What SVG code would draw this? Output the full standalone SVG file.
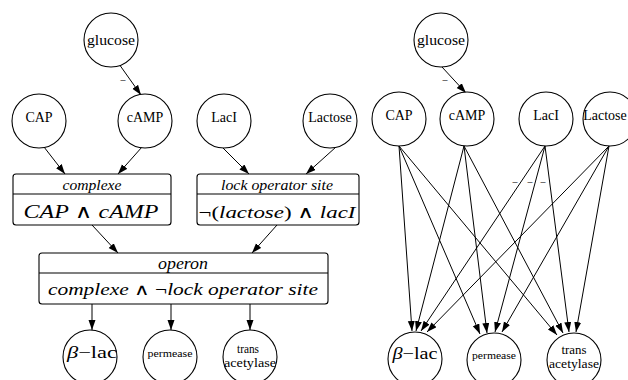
<svg xmlns="http://www.w3.org/2000/svg" width="628" height="380" viewBox="0 0 628 380">
<style>
  .n { fill: #fff; stroke: #000; stroke-width: 1.1; }
  .b { fill: #fff; stroke: #000; stroke-width: 1.1; }
  .t { font-family: "Liberation Serif", "Times New Roman", serif; fill: #000; text-anchor: middle; }
  .s14 { font-size: 14px; }
  .i { font-style: italic; }
  .op { font-family: "DejaVu Serif", serif; font-style: normal; }
  .e { fill: none; stroke: #000; stroke-width: 1; marker-end: url(#ah); }
  .lbl { font-family: "Liberation Serif", serif; font-size: 10px; fill: #000; text-anchor: middle; }
</style>
<defs>
  <marker id="ah" markerUnits="userSpaceOnUse" markerWidth="10" markerHeight="8" refX="10" refY="3.5" orient="auto">
    <path d="M0,0 L10,3.5 L0,7 z" fill="#000"/>
  </marker>
</defs>
<rect width="628" height="380" fill="#fff"/>

<g id="connectors">
  <!-- left graph -->
  <path class="e" d="M119,64 L141,95"/>
  <text class="lbl" x="123" y="83">–</text>
  <path class="e" d="M44,147 L65,174"/>
  <path class="e" d="M142,147 L118,174"/>
  <path class="e" d="M223,148 L249,174"/>
  <path class="e" d="M336,147 L306,174"/>
  <path class="e" d="M92,225 L118,253"/>
  <path class="e" d="M277,225 L252,253"/>
  <path class="e" d="M92,304 L92,330"/>
  <path class="e" d="M171,304 L171,330"/>
  <path class="e" d="M250,304 L250,330"/>
  <!-- right graph -->
  <path class="e" d="M442,67 L466,93"/>
  <text class="lbl" x="445" y="83">–</text>
  <path class="e" d="M399,146 L412,331"/>
  <path class="e" d="M399,146 L480,334"/>
  <path class="e" d="M399,146 L557,335"/>
  <path class="e" d="M464,146 L416,331"/>
  <path class="e" d="M464,146 L487,333"/>
  <path class="e" d="M464,146 L563,333"/>
  <path class="e" d="M545,146 L421,331"/>
  <path class="e" d="M545,146 L495,332"/>
  <path class="e" d="M545,146 L569,332"/>
  <path class="e" d="M609,146 L427,332"/>
  <path class="e" d="M609,146 L502,332"/>
  <path class="e" d="M609,146 L576,332"/>
  <text class="lbl" x="515" y="185">–</text>
  <text class="lbl" x="530" y="185">–</text>
  <text class="lbl" x="543" y="185">–</text>
</g>

<!-- left graph nodes -->
<g id="glucose_L"><circle class="n" cx="111" cy="40" r="27"/><text class="t" x="111" y="45" style="font-size:15px" textLength="48" lengthAdjust="spacingAndGlyphs">glucose</text></g>
<g id="CAP_L"><circle class="n" cx="39" cy="121" r="27"/><text class="t s14" x="39" y="122">CAP</text></g>
<g id="cAMP_L"><circle class="n" cx="145" cy="121" r="27"/><text class="t s14" x="145" y="122">cAMP</text></g>
<g id="LacI_L"><circle class="n" cx="224" cy="121" r="27"/><text class="t s14" x="224" y="122">LacI</text></g>
<g id="Lactose_L"><circle class="n" cx="330" cy="121" r="27"/><text class="t s14" x="330" y="122">Lactose</text></g>

<g id="complexe">
  <rect class="b" x="13" y="174" width="158" height="51" rx="3"/>
  <line x1="13" y1="194" x2="171" y2="194" stroke="#000" stroke-width="1.1"/>
  <text class="t i" x="92" y="190" style="font-size:15px" textLength="59" lengthAdjust="spacingAndGlyphs">complexe</text>
  <text class="t" x="91" y="218" style="font-size:19px" textLength="135" lengthAdjust="spacingAndGlyphs"><tspan font-style="italic">CAP</tspan> <tspan class="op">∧</tspan> <tspan font-style="italic">cAMP</tspan></text>
</g>
<g id="lock_operator_site">
  <rect class="b" x="197" y="174" width="162" height="51" rx="3"/>
  <line x1="197" y1="194" x2="359" y2="194" stroke="#000" stroke-width="1.1"/>
  <text class="t i" x="277" y="190" style="font-size:15px" textLength="112" lengthAdjust="spacingAndGlyphs">lock operator site</text>
  <text class="t" x="277" y="218" style="font-size:17px" textLength="157" lengthAdjust="spacingAndGlyphs">¬(<tspan font-style="italic">lactose</tspan>) <tspan class="op">∧</tspan> <tspan font-style="italic">lacI</tspan></text>
</g>
<g id="operon">
  <rect class="b" x="39" y="253" width="289" height="51" rx="3"/>
  <line x1="39" y1="273" x2="328" y2="273" stroke="#000" stroke-width="1.1"/>
  <text class="t i" x="183" y="269" style="font-size:16px" textLength="50" lengthAdjust="spacingAndGlyphs">operon</text>
  <text class="t" x="183" y="295" style="font-size:16px" textLength="270" lengthAdjust="spacingAndGlyphs"><tspan font-style="italic">complexe</tspan> <tspan class="op">∧</tspan> ¬<tspan font-style="italic">lock operator site</tspan></text>
</g>

<g id="beta_lac_L"><circle class="n" cx="90" cy="357" r="27"/><text class="t" x="92" y="358" style="font-size:17px" textLength="50" lengthAdjust="spacingAndGlyphs"><tspan font-style="italic">β</tspan>−lac</text></g>
<g id="permease_L"><circle class="n" cx="170" cy="357" r="27"/><text class="t" x="170" y="357" style="font-size:11px" textLength="45" lengthAdjust="spacingAndGlyphs">permease</text></g>
<g id="trans_acetylase_L"><circle class="n" cx="250" cy="357" r="27"/><text class="t" x="248" y="353" style="font-size:12px" textLength="22" lengthAdjust="spacingAndGlyphs">trans</text><text class="t" x="250" y="367" style="font-size:12px" textLength="52" lengthAdjust="spacingAndGlyphs">acetylase</text></g>

<!-- right graph nodes -->
<g id="glucose_R"><circle class="n" cx="441" cy="40" r="27"/><text class="t" x="441" y="45" style="font-size:15px" textLength="48" lengthAdjust="spacingAndGlyphs">glucose</text></g>
<g id="CAP_R"><circle class="n" cx="399" cy="119" r="27"/><text class="t s14" x="399" y="120">CAP</text></g>
<g id="cAMP_R"><circle class="n" cx="467" cy="119" r="27"/><text class="t s14" x="467" y="120">cAMP</text></g>
<g id="LacI_R"><circle class="n" cx="546" cy="119" r="27"/><text class="t s14" x="546" y="120">LacI</text></g>
<g id="Lactose_R"><circle class="n" cx="610" cy="119" r="27"/><text class="t s14" x="605" y="120">Lactose</text></g>

<g id="beta_lac_R"><circle class="n" cx="415" cy="359" r="27"/><text class="t" x="415" y="359" style="font-size:17px" textLength="45" lengthAdjust="spacingAndGlyphs"><tspan font-style="italic">β</tspan>−lac</text></g>
<g id="permease_R"><circle class="n" cx="494" cy="360" r="27"/><text class="t" x="494" y="359" style="font-size:11px" textLength="44" lengthAdjust="spacingAndGlyphs">permease</text></g>
<g id="trans_acetylase_R"><circle class="n" cx="574" cy="360" r="27"/><text class="t" x="574" y="354" style="font-size:12px" textLength="25" lengthAdjust="spacingAndGlyphs">trans</text><text class="t" x="574" y="368" style="font-size:12px" textLength="50" lengthAdjust="spacingAndGlyphs">acetylase</text></g>
</svg>
